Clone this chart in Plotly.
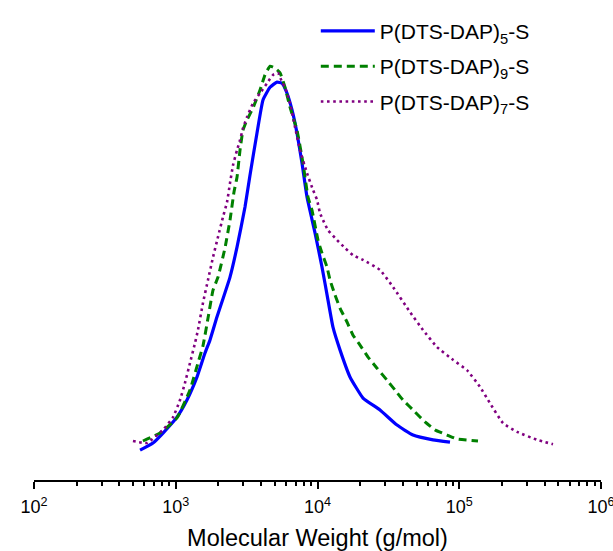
import plotly.graph_objects as go

# GPC traces: molecular weight (g/mol) vs normalised detector response
mw_5 = [560, 691, 813, 1020, 1200, 1413, 1608, 1745, 1955, 2414, 2705, 3080, 3340,
        3743, 4126, 4624, 5180, 5620, 6095, 6610, 7167, 7777, 8433, 9603, 10760,
        11860, 12860, 14410, 16950, 20940, 27600, 36390, 47190, 65300, 86050]
w_5 = [0.075, 0.093, 0.118, 0.158, 0.201, 0.259, 0.319, 0.352, 0.410, 0.510, 0.585,
       0.686, 0.766, 0.872, 0.955, 0.987, 1.000, 0.997, 0.972, 0.930, 0.872, 0.796,
       0.711, 0.621, 0.535, 0.452, 0.384, 0.327, 0.259, 0.206, 0.176, 0.138, 0.113,
       0.101, 0.095]

mw_9 = [587, 774, 1020, 1260, 1435, 1556, 1689, 1832, 1987, 2225, 2414, 2576, 2705,
        2840, 2981, 3183, 3508, 3930, 4263, 4624, 5013, 5439, 5898, 6397, 7167, 7903,
        8571, 9146, 10080, 10760, 11670, 12250, 13290, 14410, 16150, 17800, 19950,
        22710, 26290, 30920, 35240, 40100, 48740, 57330, 67440, 81990, 96400, 135600]
w_9 = [0.098, 0.118, 0.156, 0.226, 0.294, 0.337, 0.407, 0.477, 0.510, 0.583, 0.653,
       0.724, 0.761, 0.829, 0.879, 0.905, 0.935, 0.980, 1.018, 1.040, 1.035, 1.023,
       0.987, 0.937, 0.879, 0.796, 0.711, 0.678, 0.603, 0.570, 0.535, 0.503, 0.465,
       0.432, 0.397, 0.364, 0.339, 0.309, 0.281, 0.251, 0.226, 0.201, 0.171, 0.146,
       0.126, 0.113, 0.103, 0.098]

mw_7 = [499, 627, 813, 957, 1072, 1162, 1260, 1367, 1435, 1556, 1689, 1832, 1987,
        2154, 2299, 2414, 2535, 2705, 2840, 2981, 3183, 3508, 3930, 4403, 4853, 5264,
        5620, 5898, 6397, 6937, 7525, 8433, 9297, 9920, 10410, 10940, 11860, 13730,
        15630, 17800, 20940, 27600, 34100, 44940, 55500, 69660, 90330, 113400, 140100,
        164800, 203600, 255500, 353700, 458500]
w_7 = [0.098, 0.093, 0.126, 0.158, 0.201, 0.244, 0.294, 0.344, 0.377, 0.445, 0.503,
       0.560, 0.611, 0.661, 0.698, 0.746, 0.791, 0.829, 0.854, 0.884, 0.912, 0.947,
       0.972, 0.997, 1.018, 1.023, 1.000, 0.987, 0.947, 0.887, 0.829, 0.771, 0.729,
       0.704, 0.671, 0.653, 0.628, 0.603, 0.583, 0.565, 0.553, 0.528, 0.485, 0.422,
       0.377, 0.334, 0.302, 0.276, 0.234, 0.193, 0.143, 0.121, 0.101, 0.090]

names = ["P(DTS-DAP)<sub>5</sub>-S", "P(DTS-DAP)<sub>9</sub>-S", "P(DTS-DAP)<sub>7</sub>-S"]
tick_vals = [1e2, 1e3, 1e4, 1e5, 1e6]
tick_text = ["10<sup>2</sup>", "10<sup>3</sup>", "10<sup>4</sup>", "10<sup>5</sup>", "10<sup>6</sup>"]

FONT = "Liberation Sans, Arial, sans-serif"

fig = go.Figure()
series = [
    (mw_5, w_5, names[0], dict(color="#0000FF", width=3.2, dash="solid")),
    (mw_9, w_9, names[1], dict(color="#008000", width=3.0, dash="8px,5px")),
    (mw_7, w_7, names[2], dict(color="#800080", width=2.6, dash="2.6px,3.6px")),
]
for i, (x, y, nm, ln) in enumerate(series):
    fig.add_trace(go.Scatter(
        x=x, y=y, name=nm, mode="lines",
        line=dict(shape="spline", smoothing=0.4, **ln),
        legendgroup=f"g{i}",
    ))

fig.update_layout(
    width=613, height=551,
    margin=dict(l=34, r=12, t=20, b=71, autoexpand=False),
    paper_bgcolor="white", plot_bgcolor="white",
    font=dict(family=FONT, color="black"),
    showlegend=True,
    legend=dict(
        x=0.497, y=1.02, xanchor="left", yanchor="top",
        font=dict(size=21, family=FONT, color="black"),
        bgcolor="rgba(0,0,0,0)", borderwidth=0,
        traceorder="grouped", tracegroupgap=5, itemwidth=54,
    ),
    xaxis=dict(
        type="log", range=[2, 6], automargin=False,
        tickvals=tick_vals, ticktext=tick_text,
        ticks="outside", ticklen=7, tickwidth=1.5, tickcolor="black",
        minor=dict(ticks="outside", ticklen=4, tickwidth=1.5, tickcolor="black", dtick="D1"),
        showline=True, linecolor="black", linewidth=1.5,
        showgrid=False, zeroline=False,
        tickfont=dict(size=18, family=FONT),
        ticklabelstandoff=3, ticklabeloverflow="allow",
        title=dict(text="Molecular Weight (g/mol)", font=dict(size=23.5, family=FONT), standoff=18),
    ),
    yaxis=dict(
        range=[0, 1.156], visible=False, showgrid=False, zeroline=False,
    ),
)

fig.write_html("out.html")
